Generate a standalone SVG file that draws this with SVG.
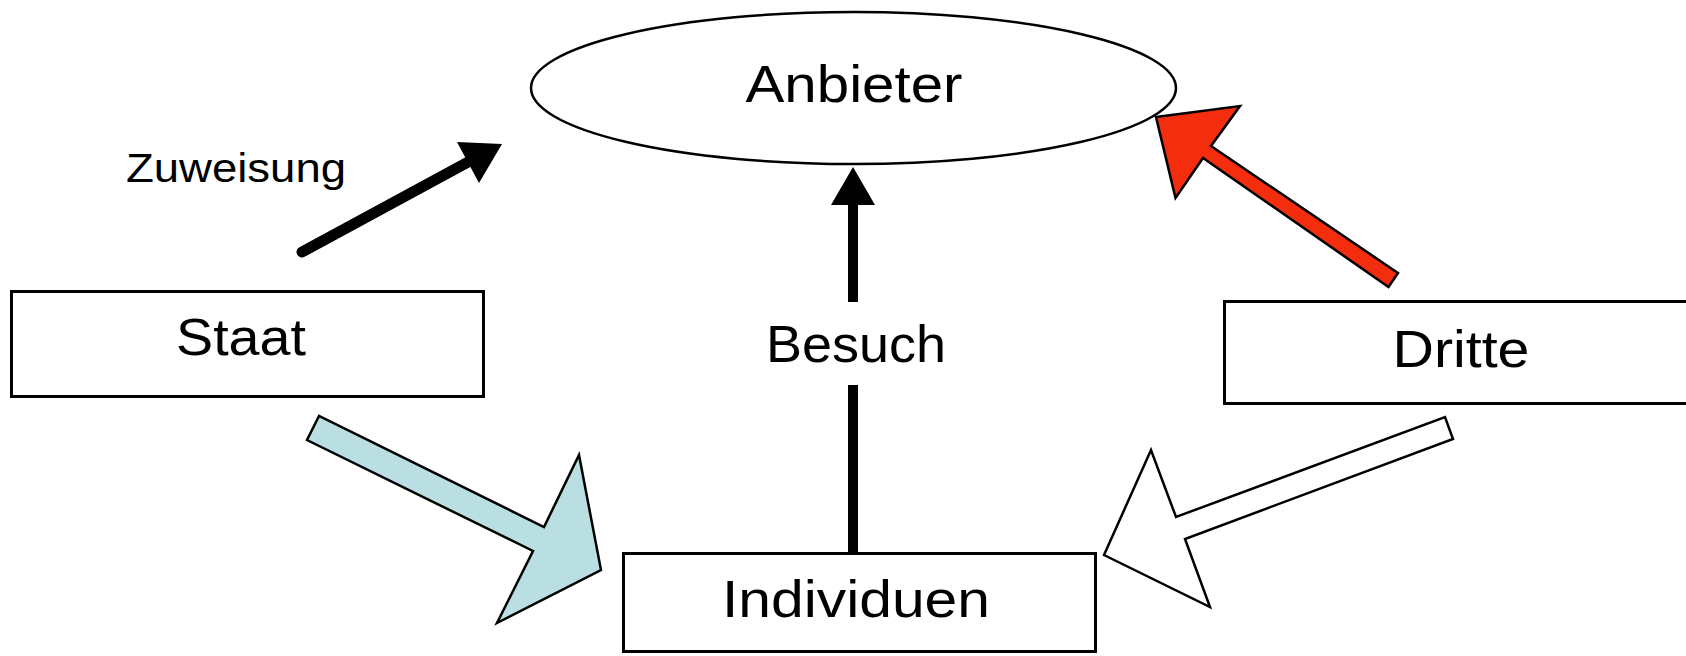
<svg xmlns="http://www.w3.org/2000/svg" width="1686" height="656" viewBox="0 0 1686 656">
<style>
.box{fill:#fff;stroke:#000;stroke-width:3}
.lbl{font-family:"Liberation Sans",Arial,sans-serif;font-size:52px;fill:#000;text-anchor:middle}
.edge{stroke:#000;stroke-width:2.5;stroke-linejoin:miter}
</style>
<rect width="1686" height="656" fill="#fff"/>
<g id="anbieter">
<ellipse cx="853.5" cy="88" rx="322.5" ry="76" fill="#fff" stroke="#000" stroke-width="2.5"/>
<text class="lbl" x="854" y="102" textLength="217" lengthAdjust="spacingAndGlyphs">Anbieter</text>
</g>
<g id="staat">
<rect class="box" x="11.5" y="291.5" width="472" height="105"/>
<text class="lbl" x="241" y="355" textLength="130" lengthAdjust="spacingAndGlyphs">Staat</text>
</g>
<g id="dritte">
<rect class="box" x="1224.5" y="301.5" width="480" height="102"/>
<text class="lbl" x="1461" y="367" textLength="137" lengthAdjust="spacingAndGlyphs">Dritte</text>
</g>
<g id="individuen">
<rect class="box" x="623.5" y="553.5" width="472" height="98"/>
<text class="lbl" x="856" y="617" textLength="268" lengthAdjust="spacingAndGlyphs">Individuen</text>
</g>
<g id="connectors">
<g id="zuweisung">
<line x1="302" y1="252" x2="470" y2="161" stroke="#000" stroke-width="11" stroke-linecap="round"/>
<polygon points="457,142 502,144 479,183" fill="#000"/>
<text x="236" y="182" font-family="'Liberation Sans',Arial,sans-serif" font-size="40" text-anchor="middle" textLength="220" lengthAdjust="spacingAndGlyphs">Zuweisung</text>
</g>
<g id="besuch">
<line x1="853" y1="553" x2="853" y2="385" stroke="#000" stroke-width="10"/>
<line x1="853" y1="302" x2="853" y2="200" stroke="#000" stroke-width="10"/>
<polygon points="853,167 875,205 831,205" fill="#000"/>
<text class="lbl" x="856" y="362" textLength="180" lengthAdjust="spacingAndGlyphs">Besuch</text>
</g>
<polygon id="red-arrow" class="edge" fill="#F32D0D" points="1156,117 1240,106 1211,146 1398,273 1388.5,287 1203,158 1175.5,198"/>
<polygon id="blue-arrow" class="edge" fill="#B9DFE2" points="319,416 307,440 533,551 497,623 601,570 579,455 544,527"/>
<polygon id="white-arrow" class="edge" fill="#fff" points="1104,555 1151,450 1176,517 1445,417 1453,439 1185,539 1210,607"/>
</g>
</svg>
